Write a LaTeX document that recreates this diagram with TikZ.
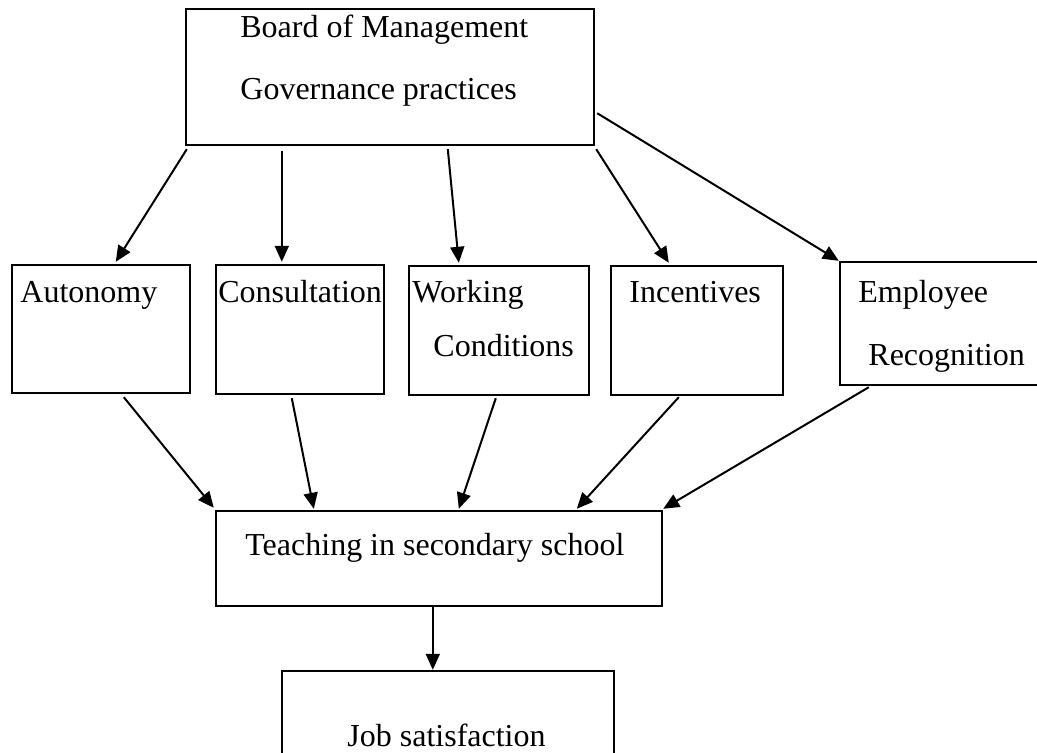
\documentclass[tikz,border=0pt]{standalone}
\usepackage{fontspec}
\setmainfont{Liberation Serif}
\usetikzlibrary{calc,arrows.meta}
\begin{document}
\begin{tikzpicture}[x=0.5pt,y=-0.5pt,
  box/.style={draw,line width=1.2pt,inner sep=0pt},
  lbl/.style={anchor=base west,inner sep=0pt,font=\fontsize{16}{19}\selectfont},
  arr/.style={line width=1pt,-{Triangle[length=8pt,width=7pt]}}]
\useasboundingbox (0,0) rectangle (1037,753);
\node[box,minimum width=204pt,minimum height=68pt] (top) at (390,77) {};
\node[box,minimum width=89pt,minimum height=64pt] (aut) at (101,329) {};
\node[box,minimum width=84pt,minimum height=64.5pt] (con) at (300,329.5) {};
\node[box,minimum width=90pt,minimum height=64.5pt] (work) at (499,330.5) {};
\node[box,minimum width=86pt,minimum height=64.5pt] (inc) at (697,330.5) {};
\node[box,minimum width=102.5pt,minimum height=61.5pt] (emp) at (942.5,323.5) {};
\node[box,minimum width=223pt,minimum height=47.5pt] (teach) at (439,558.5) {};
\node[box,minimum width=166pt,minimum height=49.5pt] (job) at (448,720.5) {};
\node[lbl] (t1) at (240,38) {Board of Management};
\node[lbl] (t2) at (240,100) {Governance practices};
\node[lbl] (t3) at (20,303) {Autonomy};
\node[lbl] (t4) at (218,303) {Consultation};
\node[lbl] (t5) at (412,303) {Working};
\node[lbl] (t6) at (433,357) {Conditions};
\node[lbl] (t7) at (629,303) {Incentives};
\node[lbl] (t8) at (858,303) {Employee};
\node[lbl] (t9) at (868,365) {Recognition};
\node[lbl] (t10) at (245,555) {Teaching in secondary school};
\node[lbl] (t11) at (347,746) {Job satisfaction};
\draw[arr] ($(top.south west)+(2,3)$) -- ($(aut.north west)+(105,-2)$);
\draw[arr] ($(top.south west)+(97,5)$) -- ($(con.north west)+(67,-2)$);
\draw[arr] ($(top.south west)+(263,3)$) -- ($(work.north west)+(51,-2)$);
\draw[arr] ($(top.south east)+(1,3)$) -- ($(inc.north west)+(59,-2)$);
\draw[arr] ($(top.south east)+(2,-33)$) -- (emp.north west);
\draw[arr] ($(aut.south west)+(113,3)$) -- ($(teach.north west)+(-1,-2)$);
\draw[arr] ($(con.south west)+(77,3)$) -- ($(teach.north west)+(99,-1)$);
\draw[arr] ($(work.south west)+(88,2)$) -- ($(teach.north west)+(244,-1)$);
\draw[arr] ($(inc.south west)+(69,1)$) -- ($(teach.north west)+(362,-1)$);
\draw[arr] ($(emp.south west)+(30,1)$) -- ($(teach.north east)+(0,-1)$);
\draw[arr] ($(teach.south west)+(218,0)$) -- ($(job.north west)+(152,0)$);
\end{tikzpicture}
\end{document}
